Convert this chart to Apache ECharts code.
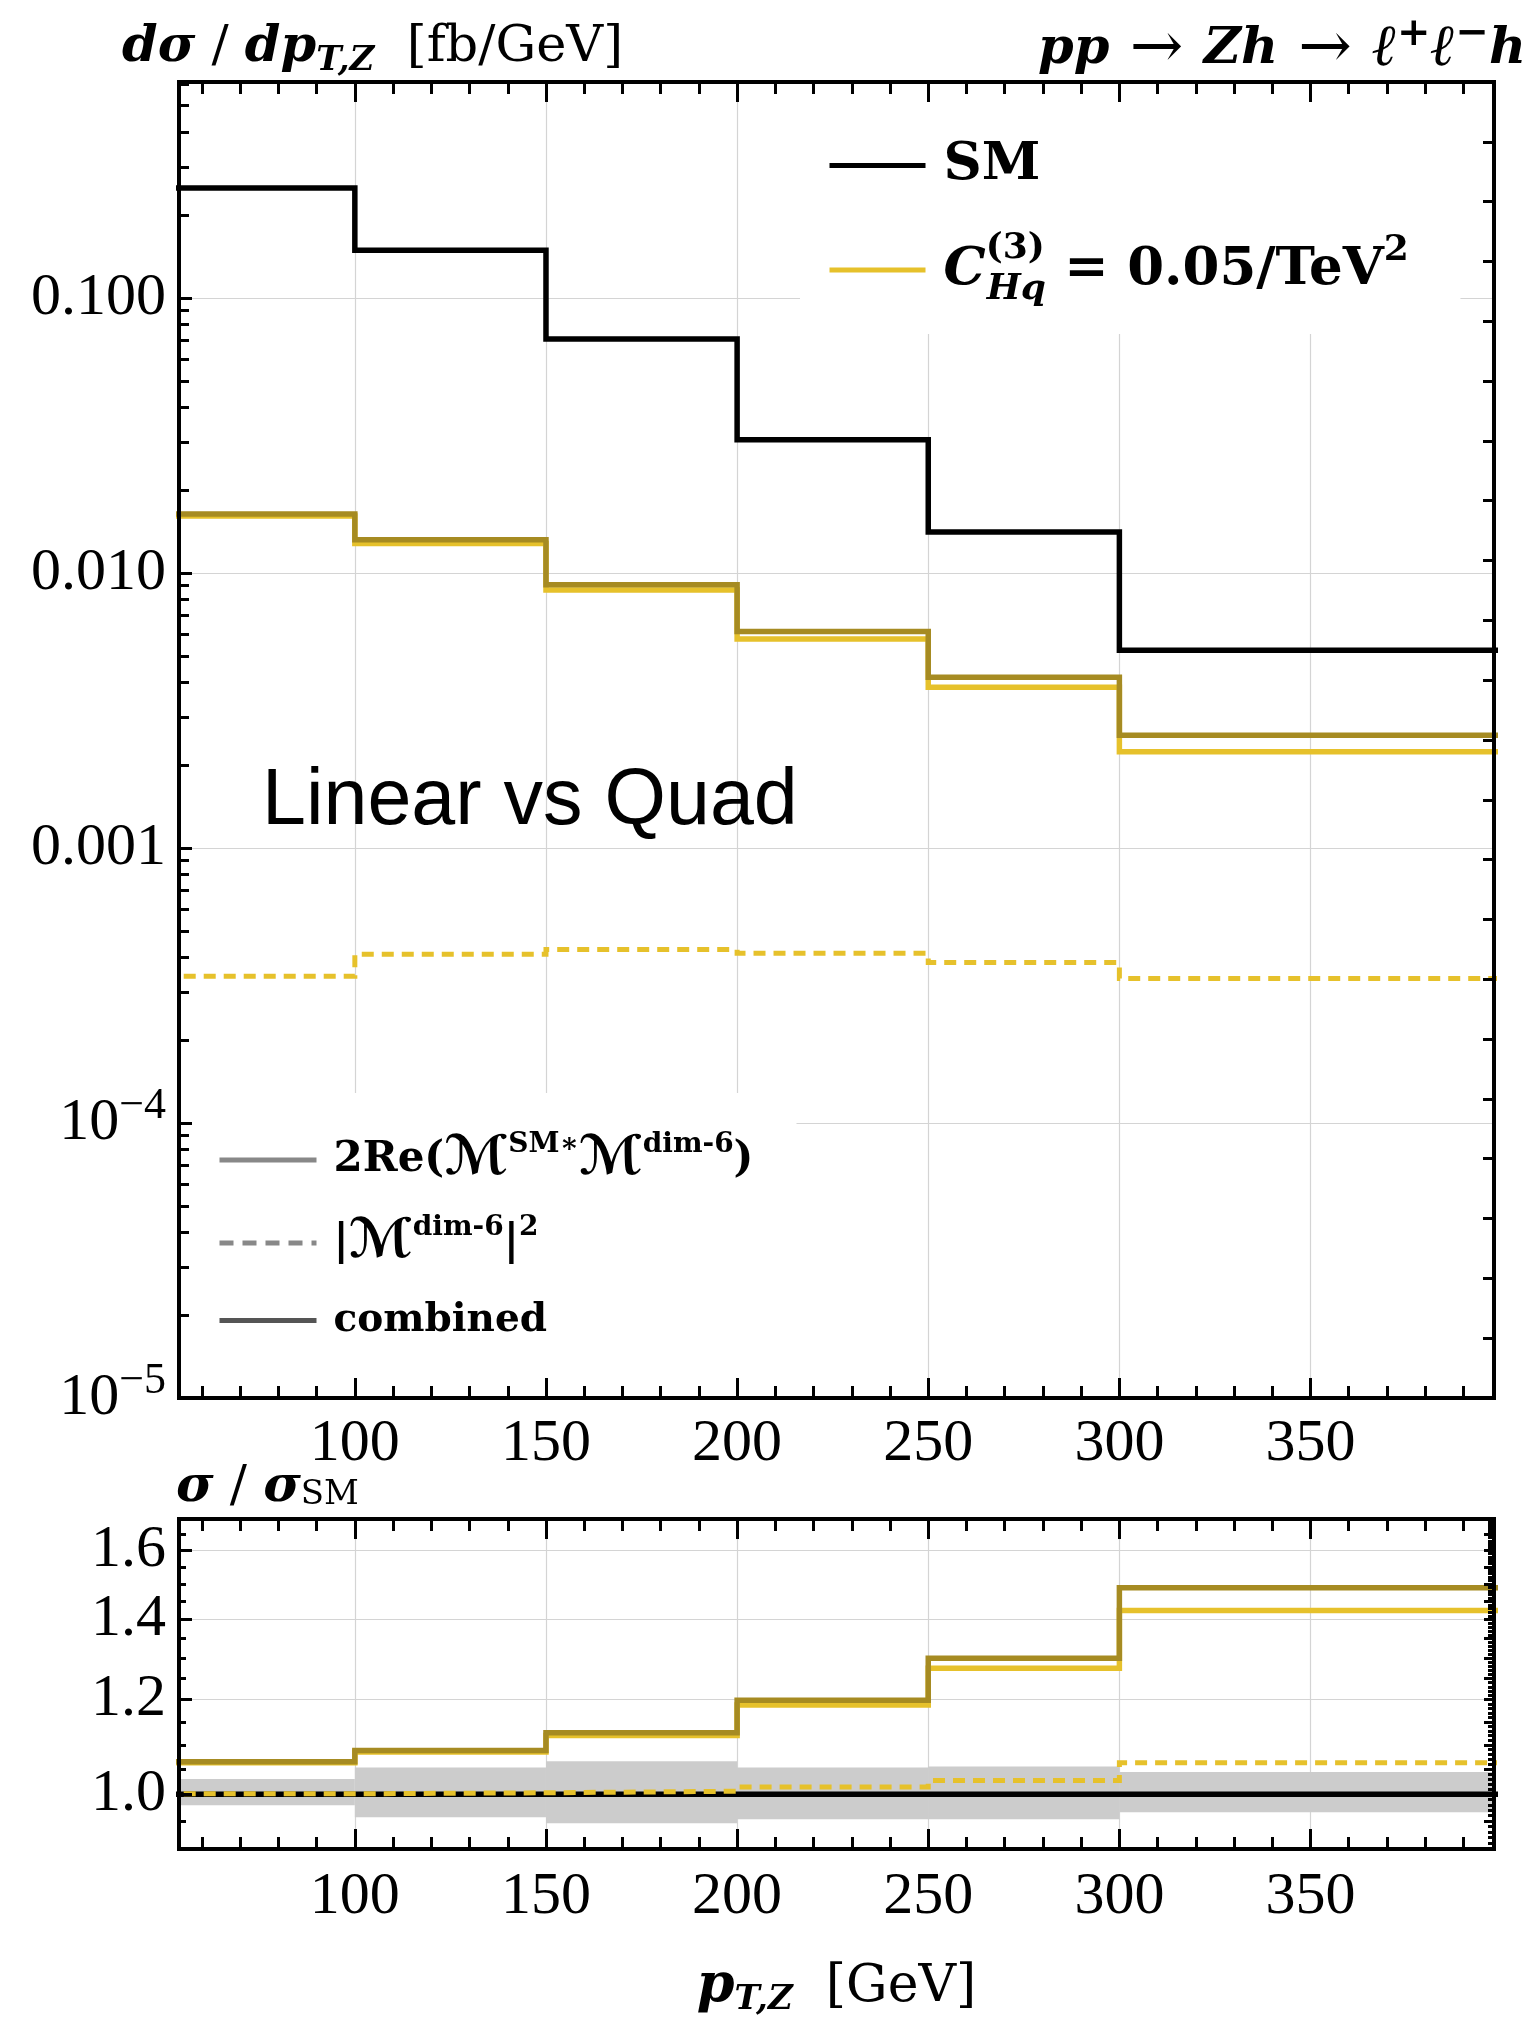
<!DOCTYPE html>
<html><head><meta charset="utf-8">
<script src="https://cdn.jsdelivr.net/npm/echarts@6/dist/echarts.min.js"></script>
<style>html,body{margin:0;padding:0;background:#fff}#c{width:1538px;height:2023px}</style>
</head><body><div id="c"></div>
<script>
// ---------------- data ----------------
const binEdges = [50, 100, 150, 200, 250, 300, 400];
const smXsec   = [0.251, 0.149, 0.0709, 0.0305, 0.0141, 0.00524];
const linXsec  = [0.0161, 0.0128, 0.00868, 0.00575, 0.00384, 0.00224];
const quadXsec = [0.000342, 0.000411, 0.000427, 0.000414, 0.000383, 0.000335];
const combXsec = [0.0164, 0.0132, 0.00907, 0.00612, 0.00418, 0.00257];
const smRatio   = [1, 1, 1, 1, 1, 1];
const linRatio  = [1.063, 1.085, 1.120, 1.188, 1.275, 1.425];
const quadRatio = [1.001, 1.003, 1.006, 1.014, 1.027, 1.063];
const combRatio = [1.065, 1.088, 1.126, 1.199, 1.300, 1.489];
const bandLow   = [0.979, 0.957, 0.946, 0.953, 0.953, 0.966];
const bandHigh  = [1.030, 1.053, 1.066, 1.053, 1.055, 1.044];
const xTickValues = [100, 150, 200, 250, 300, 350];
const yTickValues = [1e-5, 1e-4, 1e-3, 1e-2, 1e-1];
const yTickLabels = ['10^-5', '10^-4', '0.001', '0.010', '0.100'];
const ratioTickValues = [1.0, 1.2, 1.4, 1.6];
const ratioTickLabels = ['1.0', '1.2', '1.4', '1.6'];
const xRange = [54, 398];
const yRange = [1e-5, 0.61];
const ratioRange = [0.9, 1.7];

// ---------------- helpers ----------------
const lg = Math.log10;
const YEL = '#E6C12B', OLV = '#A68B22', GRIDC = '#d4d4d4';
function steps(vals) {
  const d = vals.map((v, i) => [binEdges[i], lg(v)]);
  d.push([binEdges[binEdges.length - 1], lg(vals[vals.length - 1])]);
  return d;
}
const yLo = lg(yRange[0]), yHi = lg(yRange[1]);
const rLo = lg(ratioRange[0]), rHi = lg(ratioRange[1]);
const xMinor = [];
for (let v = 60; v < 400; v += 10) if (v % 50 !== 0) xMinor.push(v);
const yMajor = yTickValues.map(lg);
const yMinor = [];
for (let n = -5; n <= -1; n++) for (let k = 2; k <= 9; k++) { const t = lg(k) + n; if (t < yHi) yMinor.push(t); }
const yRight = [];
for (let k = 1; k < 22; k++) yRight.push(yLo + k * (yHi - yLo) / 22);
const rMajor = ratioTickValues.map(lg);
const rMinor = [];
for (let k = 19; k <= 33; k++) { const v = k * 0.05; if (Math.abs(v * 5 - Math.round(v * 5)) > 1e-6) rMinor.push(lg(v)); }
const rRightMinor = [];
for (let k = 91; k < 170; k++) { const v = k / 100; if (k % 5 !== 0) rRightMinor.push(lg(v)); }
const rRightMajor = [];
for (let k = 19; k <= 33; k++) rRightMajor.push(lg(k * 0.05));

const TICK = { color: '#000', width: 3 };
const FRAME = { show: true, onZero: false, lineStyle: { color: '#000', width: 4, cap: 'square' } };
function ax(type, grid, pos, range, o) {
  const base = {
    type: 'value', gridIndex: grid, position: pos, min: range[0], max: range[1], z: 10,
    axisLine: { show: false, onZero: false },
    axisTick: { show: false }, axisLabel: { show: false },
    splitLine: { show: false }, minorTick: { show: false }, minorSplitLine: { show: false }
  };
  return Object.assign(base, o);
}
function tk(len, vals, show) {
  return { show: show !== false, inside: true, length: len, lineStyle: TICK, customValues: vals };
}
const numFont = { fontFamily: 'Liberation Serif', fontSize: 60, color: '#000' };
function fmtTop(v) {
  const i = yMajor.findIndex(t => Math.abs(t - v) < 1e-6);
  if (i < 0) return '';
  const s = yTickLabels[i];
  if (s.indexOf('^') >= 0) { const p = s.split('^'); return '{b|' + p[0] + '}{s|' + p[1].replace('-', '\u2212') + '}'; }
  return '{b|' + s + '}';
}
function fmtRatio(v) {
  const i = rMajor.findIndex(t => Math.abs(t - v) < 1e-6);
  return i < 0 ? '' : ratioTickLabels[i];
}
const xLabel = Object.assign({ show: true, customValues: xTickValues, margin: 16, formatter: v => String(Math.round(v)) }, numFont);
const xLabel2 = Object.assign({}, xLabel, { margin: 18 });
const splitX = { show: true, lineStyle: { color: GRIDC, width: 1.2 } };
const F = 'DejaVu Serif';

const xAxes = [];
[[0, xLabel], [1, xLabel2]].forEach(([g, lab]) => {
  const main = ax('x', g, 'bottom', xRange, { axisLine: FRAME, axisTick: tk(20, xTickValues), axisLabel: lab });
  if (g === 1) {
    Object.assign(main, {
      name: '{i|p}{sub|T,Z}{r|  [GeV]}', nameLocation: 'middle', nameGap: 108,
      nameTextStyle: { rich: {
        i: { fontFamily: F, fontStyle: 'italic', fontWeight: 'bold', fontSize: 54, lineHeight: 60, color: '#000' },
        sub: { fontFamily: F, fontStyle: 'italic', fontWeight: 'bold', fontSize: 34, lineHeight: 26, height: 34, verticalAlign: 'bottom', color: '#000' },
        r: { fontFamily: F, fontSize: 52, lineHeight: 60, color: '#000' }
      } }
    });
  }
  xAxes.push(main);
  xAxes.push(ax('x', g, 'bottom', xRange, { axisTick: tk(12, xMinor) }));
  xAxes.push(ax('x', g, 'top', xRange, { axisLine: FRAME, axisTick: tk(20, xTickValues) }));
  xAxes.push(ax('x', g, 'top', xRange, { axisTick: tk(12, xMinor) }));
  xAxes.push(ax('x', g, 'bottom', xRange, { z: 0, axisTick: tk(1, xTickValues, false), splitLine: splitX }));
});

const yAxes = [
  ax('y', 0, 'left', [yLo, yHi], { axisLine: FRAME, axisTick: tk(13, yMajor),
    axisLabel: { show: true, customValues: yMajor, margin: 13, formatter: fmtTop,
      rich: { b: Object.assign({ lineHeight: 60 }, numFont),
              s: { fontFamily: 'Liberation Serif', fontSize: 44, lineHeight: 26, height: 26, verticalAlign: 'top', color: '#000' } } } }),
  ax('y', 0, 'left', [yLo, yHi], { axisTick: tk(10, yMinor) }),
  ax('y', 0, 'right', [yLo, yHi], { axisLine: FRAME, axisTick: tk(11, yRight) }),
  ax('y', 0, 'left', [yLo, yHi], { z: 0, axisTick: tk(1, yMajor.slice(1), false), splitLine: splitX }),
  ax('y', 1, 'left', [rLo, rHi], { axisLine: FRAME, axisTick: tk(13, rMajor),
    axisLabel: Object.assign({ show: true, customValues: rMajor, margin: 13, formatter: fmtRatio }, numFont) }),
  ax('y', 1, 'left', [rLo, rHi], { axisTick: tk(7, rMinor) }),
  ax('y', 1, 'right', [rLo, rHi], { axisLine: FRAME, axisTick: tk(10, rRightMajor) }),
  ax('y', 1, 'right', [rLo, rHi], { axisTick: tk(6, rRightMinor) }),
  ax('y', 1, 'left', [rLo, rHi], { z: 0, axisTick: tk(1, rMajor.slice(1), false), splitLine: splitX })
];

function stepLine(name, vals, color, width, xi, yi, dash) {
  return {
    type: 'line', name: name, xAxisIndex: xi, yAxisIndex: yi, data: steps(vals), step: 'end',
    symbol: 'none', showSymbol: false, silent: true, animation: false, color: color,
    lineStyle: { color: color, width: width, type: dash || 'solid', join: 'miter', cap: 'butt' }
  };
}
function dummy(name, color, dash) {
  return { type: 'line', name: name, xAxisIndex: 0, yAxisIndex: 0, data: [], symbol: 'none', color: color,
    lineStyle: { color: color, width: 5, type: dash || 'solid' } };
}
const bandData = bandLow.map((lo, i) => [binEdges[i], binEdges[i + 1], lg(lo), lg(bandHigh[i])]);
const DASH = [12, 8];

const series = [
  stepLine('SM', smXsec, '#000', 5.5, 0, 0),
  stepLine('quadTop', quadXsec, YEL, 5, 0, 0, DASH),
  stepLine('CHq', linXsec, YEL, 5.5, 0, 0),
  stepLine('combTop', combXsec, OLV, 5.5, 0, 0),
  {
    type: 'custom', name: 'band', xAxisIndex: 5, yAxisIndex: 4, data: bandData, silent: true,
    encode: { x: [0, 1], y: [2, 3] }, z: 1,
    renderItem: function (params, api) {
      const p0 = api.coord([api.value(0), api.value(3)]);
      const p1 = api.coord([api.value(1), api.value(2)]);
      const cs = params.coordSys;
      const r = echarts.graphic.clipRectByRect(
        { x: p0[0], y: p0[1], width: p1[0] - p0[0], height: p1[1] - p0[1] },
        { x: cs.x, y: cs.y, width: cs.width, height: cs.height });
      return r && { type: 'rect', shape: r, style: { fill: '#cccccc' } };
    }
  },
  stepLine('SMratio', smRatio, '#000', 5.5, 5, 4),
  stepLine('quadRatio', quadRatio, YEL, 5, 5, 4, DASH),
  stepLine('linRatio', linRatio, YEL, 5.5, 5, 4),
  stepLine('combRatio', combRatio, OLV, 5.5, 5, 4),
  dummy('interf', '#888888'),
  dummy('quadsq', '#888888', [14, 9]),
  dummy('combined', '#555555')
];

const legRich1 = {
  sp: { width: 13 },
  t: { fontFamily: F, fontWeight: 'bold', fontSize: 53, lineHeight: 60, color: '#000' },
  ti: { fontFamily: F, fontWeight: 'bold', fontStyle: 'italic', fontSize: 53, lineHeight: 60, color: '#000' },
  sup: { fontFamily: F, fontWeight: 'bold', fontSize: 36, lineHeight: 18, height: 18, verticalAlign: 'top', width: 1, color: '#000' },
  subi: { fontFamily: F, fontWeight: 'bold', fontStyle: 'italic', fontSize: 36, lineHeight: 20, height: 20, verticalAlign: 'bottom', color: '#000' },
  sup2: { fontFamily: F, fontWeight: 'bold', fontSize: 36, lineHeight: 22, height: 22, verticalAlign: 'top', color: '#000' }
};
const legRich2 = {
  sp: { width: 12 },
  b: { fontFamily: F, fontWeight: 'bold', fontSize: 42, lineHeight: 50, color: '#000' },
  c: { fontFamily: F, fontWeight: 'bold', fontSize: 39, lineHeight: 50, color: '#000' },
  m: { fontFamily: "'DejaVu Serif','DejaVu Sans'", fontWeight: 'bold', fontSize: 54, lineHeight: 50, color: '#000' },
  s: { fontFamily: F, fontWeight: 'bold', fontSize: 28, lineHeight: 20, height: 20, verticalAlign: 'top', color: '#000' }
};
const legTexts = {
  SM: '{sp| }{t|SM}',
  CHq: '{sp| }{ti|C}{sup|(3)}{subi|Hq}{t| = 0.05/TeV}{sup2|2}',
  interf: '{sp| }{b|2Re(}{m|\u2133}{s|SM\u2217}{m|\u2133}{s|dim-6}{b|)}',
  quadsq: '{sp| }{b||}{m|\u2133}{s|dim-6}{b||}{s|2}',
  combined: '{sp| }{c|combined}'
};
const noSym = { color: 'rgba(0,0,0,0)', borderColor: 'rgba(0,0,0,0)', borderWidth: 0 };
function leg(name, left, top, padding, rich, bg, z, w) {
  return {
    orient: 'vertical', left: left, top: top, padding: padding, itemWidth: w, itemHeight: 6, itemGap: 0, z: z,
    backgroundColor: bg ? '#fff' : 'transparent', borderWidth: 0, selectedMode: false, data: [name],
    formatter: n => legTexts[n], textStyle: { color: '#000', rich: rich }, itemStyle: noSym,
    lineStyle: { width: 5 }
  };
}

const titleRich = {
  i: { fontFamily: F, fontStyle: 'italic', fontWeight: 'bold', fontSize: 51, lineHeight: 60, color: '#000' },
  il: { fontFamily: F, fontStyle: 'italic', fontWeight: 'bold', fontSize: 58, lineHeight: 60, color: '#000' },
  r: { fontFamily: F, fontWeight: 'normal', fontSize: 51, lineHeight: 60, color: '#000' },
  ar: { fontFamily: F, fontWeight: 'normal', fontSize: 64, lineHeight: 60, color: '#000' },
  sub: { fontFamily: F, fontStyle: 'italic', fontWeight: 'bold', fontSize: 34, lineHeight: 26, height: 34, verticalAlign: 'bottom', color: '#000' },
  subr: { fontFamily: F, fontWeight: 'normal', fontSize: 34, lineHeight: 26, height: 46, verticalAlign: 'bottom', color: '#000' },
  sup: { fontFamily: F, fontWeight: 'bold', fontSize: 40, lineHeight: 26, height: 30, verticalAlign: 'top', color: '#000' }
};

const option = {
  animation: false,
  backgroundColor: '#fff',
  grid: [
    { left: 179, top: 82, width: 1315, height: 1316, outerBoundsMode: 'none', containLabel: false },
    { left: 179, top: 1519, width: 1315, height: 330, outerBoundsMode: 'none', containLabel: false }
  ],
  xAxis: xAxes,
  yAxis: yAxes,
  title: [
    { text: '{i|d\u03c3}{r| / }{i|dp}{sub|T,Z}{r|  [fb/GeV]}', left: 122, top: 18, padding: 0, textStyle: { rich: titleRich } },
    { text: '{i|pp}{ar| \u2192 }{i|Zh}{ar| \u2192 }{il|\u2113}{sup|+}{il|\u2113}{sup|\u2212}{i|h}', right: 12, top: 20, padding: 0, textStyle: { rich: titleRich } },
    { text: 'Linear vs Quad', left: 262, top: 763, padding: 0, textStyle: { fontFamily: 'Liberation Sans', fontSize: 79, fontWeight: 'normal', color: '#000' } },
    { text: '{i|\u03c3}{r| / }{i|\u03c3}{subr|SM}', left: 176, top: 1458, padding: 0, textStyle: { rich: titleRich } }
  ],
  legend: [
    leg('SM', 800, 84, [55, 420, 142, 27], legRich1, true, 4, 96),
    leg('CHq', 800, 231, [0, 0, 0, 27], legRich1, false, 5, 96),
    leg('interf', 181, 1093, [38, 43, 218, 36], legRich2, true, 4, 97),
    leg('quadsq', 181, 1214, [0, 0, 0, 36], legRich2, false, 5, 97),
    leg('combined', 181, 1301, [0, 0, 0, 36], legRich2, false, 5, 97)
  ],
  series: series
};
const chart = echarts.init(document.getElementById('c'), null, { renderer: 'canvas' });
chart.setOption(option);
</script>
</body></html>
